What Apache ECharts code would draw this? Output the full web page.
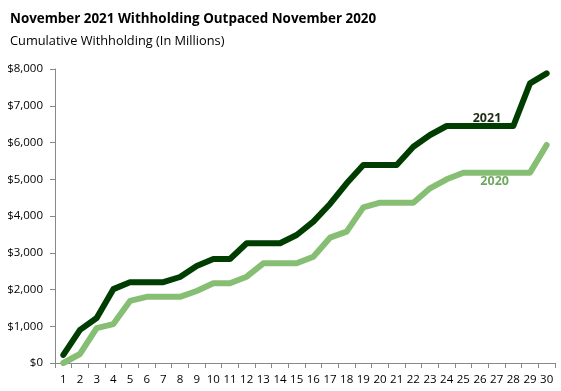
<!DOCTYPE html>
<html><head><meta charset="utf-8">
<script src="https://cdn.jsdelivr.net/npm/echarts@6/dist/echarts.min.js"></script>
<style>html,body{margin:0;padding:0;background:#fff}#c{width:561px;height:391px}</style>
</head><body><div id="c"></div>
<script>
const days = ['1','2','3','4','5','6','7','8','9','10','11','12','13','14','15','16','17','18','19','20','21','22','23','24','25','26','27','28','29','30'];
const y2021 = [220,900,1225,2010,2200,2200,2200,2340,2640,2830,2830,3257,3257,3257,3483,3846,4327,4889,5388,5388,5388,5886,6204,6449,6449,6449,6449,6449,7610,7882];
const y2020 = [0,245,950,1060,1690,1800,1800,1800,1960,2168,2168,2349,2712,2712,2712,2893,3410,3574,4236,4363,4363,4363,4753,4998,5179,5179,5179,5179,5179,5932];
const yTicks = [0,1000,2000,3000,4000,5000,6000,7000,8000];

const chart = echarts.init(document.getElementById('c'));
const font = 'Open Sans, Noto Sans, sans-serif';
chart.setOption({
  animation: false,
  title: [
    {text: 'November 2021 Withholding Outpaced November 2020', left: 5, top: 8,
     textStyle: {fontFamily: font, fontWeight: 'bold', fontSize: 13.4, color: '#000'}},
    {text: 'Cumulative Withholding (In Millions)', left: 5, top: 30,
     textStyle: {fontFamily: font, fontWeight: 'normal', fontSize: 12.8, color: '#000'}}
  ],
  grid: {left: 55, right: 6, top: 69, bottom: 28},
  xAxis: {
    type: 'category', data: days, boundaryGap: true,
    axisLine: {lineStyle: {color: '#888', width: 1}},
    axisTick: {show: true, alignWithLabel: false, length: 5, lineStyle: {color: '#888'}},
    axisLabel: {interval: 0, fontFamily: font, fontSize: 11.5, color: '#000', margin: 11}
  },
  yAxis: {
    type: 'value', min: 0, max: 8000, interval: 1000,
    axisLine: {show: true, lineStyle: {color: '#888', width: 1}},
    axisTick: {show: true, length: 5, lineStyle: {color: '#888'}},
    splitLine: {show: false},
    axisLabel: {fontFamily: font, fontSize: 11.5, color: '#000', margin: 12,
      formatter: v => '$' + v.toLocaleString('en-US')}
  },
  series: [
    {name: '2020', type: 'line', data: y2020, symbol: 'none', smooth: false,
     lineStyle: {color: '#86bf74', width: 6, join: 'round', cap: 'round'},
     markPoint: {symbol: 'circle', symbolSize: 0, data: [{coord: ['27', 5179]}],
       label: {show: true, formatter: '2020', offset: [-2, 9], fontFamily: font, fontWeight: 'bold', fontSize: 12.5, color: '#6fa85f'}}
    },
    {name: '2021', type: 'line', data: y2021, symbol: 'none', smooth: false,
     lineStyle: {color: '#003d00', width: 6, join: 'round', cap: 'round'},
     markPoint: {symbol: 'circle', symbolSize: 0, data: [{coord: ['26', 6449]}],
       label: {show: true, formatter: '2021', offset: [7, -8], fontFamily: font, fontWeight: 'bold', fontSize: 12.5, color: '#1a2e14'}}
    }
  ]
});
</script></body></html>
